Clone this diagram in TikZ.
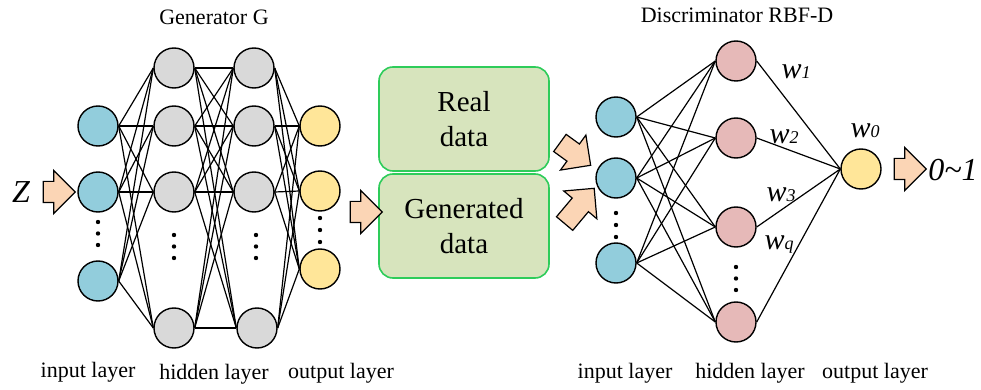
\documentclass[tikz,border=0pt]{standalone}
\usepackage{fontspec}
\setmainfont{Liberation Serif}
\usetikzlibrary{shapes.arrows,positioning}

\definecolor{inblue}{HTML}{92CDDC}
\definecolor{hidgray}{HTML}{D9D9D9}
\definecolor{outyellow}{HTML}{FFE699}
\definecolor{rbfpink}{HTML}{E6B9B8}
\definecolor{boxgreen}{HTML}{D7E4BD}
\definecolor{boxedge}{HTML}{2ECC5A}
\definecolor{peach}{HTML}{FBD5B5}

\newcommand{\wlab}[1]{\textit{w}{\fontsize{9}{9}\selectfont\textit{#1}}}

\begin{document}
\begin{tikzpicture}[
    x=0.5pt, y=-0.5pt,
    neuron/.style={circle, draw=black, line width=0.7pt, minimum size=20pt, inner sep=0pt},
    inn/.style={neuron, fill=inblue},
    hid/.style={neuron, fill=hidgray},
    outn/.style={neuron, fill=outyellow},
    rbf/.style={neuron, fill=rbfpink},
    link/.style={line width=0.6pt},
    databox/.style={rectangle, rounded corners=7pt, draw=boxedge, line width=0.8pt, fill=boxgreen,
        minimum width=85pt, minimum height=52pt, align=center, font=\fontsize{14.5}{17.5}\selectfont},
    fatarrow/.style={single arrow, draw=black, line width=0.6pt, fill=peach, inner xsep=0pt, inner ysep=5pt,
        single arrow head extend=5.5pt, minimum width=21pt, minimum height=16pt},
    layertext/.style={font=\fontsize{11}{13}\selectfont},
    wtext/.style={font=\fontsize{15}{17}\selectfont},
]
    \useasboundingbox (0,0) rectangle (981,390);

    % generator G
    \node[inn] (gi1) at (98,126) {};
    \node[inn] (gi2) at (98,192) {};
    \node[inn] (gi3) at (98,281) {};
    \node[hid] (gh1) at (174,68) {};
    \node[hid] (gh2) at (174,126) {};
    \node[hid] (gh3) at (174,192) {};
    \node[hid] (gh4) at (174,328) {};
    \node[hid] (gk1) at (254,68) {};
    \node[hid] (gk2) at (254,126) {};
    \node[hid] (gk3) at (254,192) {};
    \node[hid] (gk4) at (257,328) {};
    \node[outn] (go1) at (320,126) {};
    \node[outn] (go2) at (320,191) {};
    \node[outn] (go3) at (320,269) {};

    \foreach \a in {1,2,3} \foreach \b in {1,2,3,4}
        \draw[link] (gi\a.east) -- (gh\b.west);
    \foreach \a in {1,2,3,4} \foreach \b in {1,2,3,4}
        \draw[link] (gh\a.east) -- (gk\b.west);
    \foreach \a in {1,2,3,4} \foreach \b in {1,2,3}
        \draw[link] (gk\a.east) -- (go\b.west);

    \foreach \y in {222,233.5,245} \fill (98,\y) circle (1.1pt);
    \foreach \y in {235,246.5,258} {
        \fill (174,\y) circle (1.1pt);
        \fill (256,\y) circle (1.1pt);
    }
    \foreach \y in {218,230,242} \fill (320,\y) circle (1.1pt);

    \node[font=\fontsize{16}{18}\selectfont\itshape] (zlab) at (21,192) {Z};
    \node[fatarrow] (zarrow) at (54,192) {};
    \node[layertext] (gtitle) at (214,17) {Generator G};
    \node[layertext] (glin) at (88,372) {input layer};
    \node[layertext] (glhid) at (214,374) {hidden layer};
    \node[layertext] (glout) at (341,373) {output layer};

    % data boxes
    \node[databox] (real) at (464,119) {Real\\data};
    \node[databox] (fake) at (464,226) {Generated\\data};
    \node[fatarrow] (garrow) at (361,212) {};
    \node[fatarrow, minimum height=19pt, rotate=-36] (rarrow) at (571,151) {};
    \node[fatarrow, minimum height=23pt, rotate=50] (farrow) at (576,210) {};

    % discriminator RBF-D
    \node[inn] (di1) at (616,117) {};
    \node[inn] (di2) at (616,178) {};
    \node[inn] (di3) at (616,263) {};
    \node[rbf] (dh1) at (736,61) {};
    \node[rbf] (dh2) at (736,138) {};
    \node[rbf] (dh3) at (736,227) {};
    \node[rbf] (dh4) at (736,322) {};
    \node[outn] (dout) at (861,169) {};

    \foreach \a in {1,2,3} \foreach \b in {1,2,3,4}
        \draw[link] (di\a.east) -- (dh\b.west);
    \foreach \b in {1,2,3,4}
        \draw[link] (dh\b.east) -- (dout.west);

    \foreach \y in {213,225,237} \fill (616,\y) circle (1.1pt);
    \foreach \y in {267,278.5,290} \fill (736,\y) circle (1.1pt);

    \node[wtext] (w1) at (796,72) {\wlab{1}};
    \node[wtext] (w2) at (784,137) {\wlab{2}};
    \node[wtext] (w3) at (781,195) {\wlab{3}};
    \node[wtext] (wq) at (779,245) {\wlab{q}};
    \node[wtext] (w0) at (865,131) {\wlab{0}};

    \node[fatarrow] (oarrow) at (905,169) {};
    \node[font=\fontsize{16}{18}\selectfont\itshape] (range) at (953,170) {0\textasciitilde1};
    \node[layertext] (dtitle) at (737,15) {Discriminator RBF-D};
    \node[layertext] (dlin) at (625,373) {input layer};
    \node[layertext] (dlhid) at (750,373) {hidden layer};
    \node[layertext] (dlout) at (875,373) {output layer};
\end{tikzpicture}
\end{document}
